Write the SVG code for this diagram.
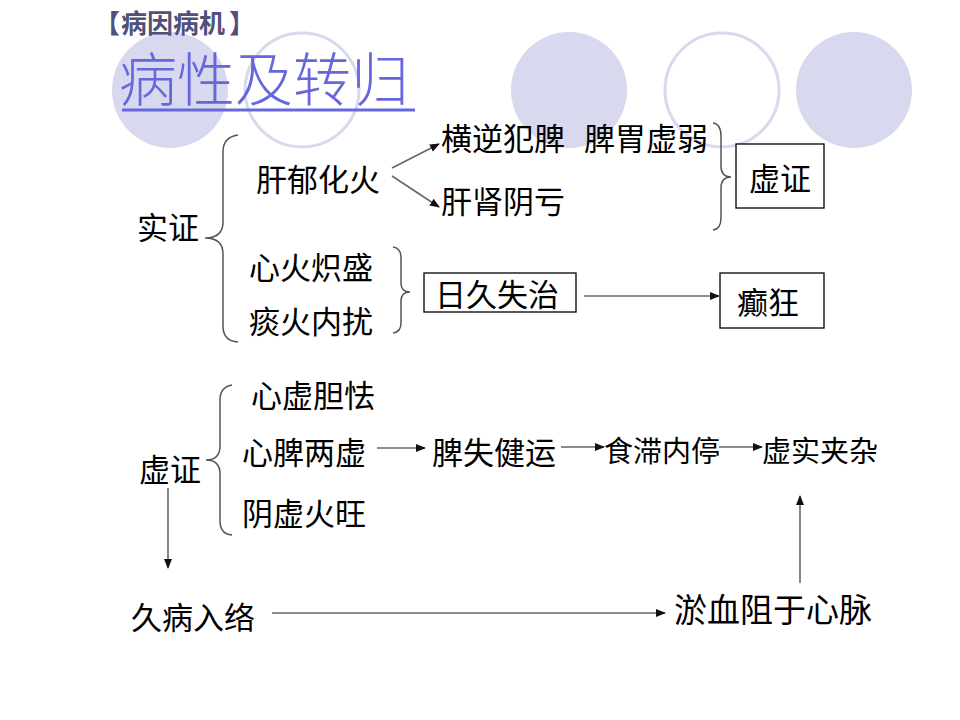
<svg xmlns="http://www.w3.org/2000/svg" width="960" height="720" viewBox="0 0 960 720">
<style>
.t{font-family:"Noto Sans CJK SC","Noto Sans CJK TC",sans-serif;font-size:31px;fill:#000;dominant-baseline:central}
.c{text-anchor:middle}
.box{fill:#fff;stroke:#000;stroke-width:1.3}
.br{fill:none;stroke:#555;stroke-width:1.5}
.ln{fill:none;stroke:#666;stroke-width:1.6;marker-end:url(#ah)}
.cf{fill:#d8d8ee}
.co{fill:none;stroke:#d8d8ee;stroke-width:3}
</style>
<defs>
<marker id="ah" markerUnits="userSpaceOnUse" markerWidth="10" markerHeight="8" refX="9" refY="4" orient="auto">
<path d="M0,0 L10,4 L0,8 z" fill="#111"/>
</marker>
</defs>
<rect width="960" height="720" fill="#fff"/>
<g id="decor">
<circle class="cf" cx="170" cy="90" r="58"/>
<circle class="co" cx="302" cy="90" r="57"/>
<circle class="cf" cx="569" cy="90" r="58"/>
<circle class="co" cx="722" cy="90" r="57"/>
<circle class="cf" cx="854" cy="90" r="58"/>
</g>
<g id="header">
<text class="t" style="font-size:26px;font-weight:bold;fill:#50507a" y="21"><tspan x="94">【</tspan><tspan x="121">病因病机</tspan><tspan x="229">】</tspan></text>
<text class="t" style="font-size:58px;font-weight:300;fill:#6666dd" x="119" y="76">病性及转归</text>
<rect x="122" y="108.5" width="293" height="3" fill="#6666dd"/>
</g>
<g id="braces">
<path class="br" d="M238,135 Q223,137 223,152 L223,222 Q223,238 205,238 Q223,238 223,254 L223,326 Q223,341 238,342"/>
<path class="br" d="M393,247 Q401,248 401,258 L401,283 Q401,292 410,292 Q401,292 401,301 L401,323 Q401,332 393,333"/>
<path class="br" d="M713,123 Q721,124 721,136 L721,166 Q721,177 731,177 Q721,177 721,188 L721,218 Q721,229 713,230"/>
<path class="br" d="M232,385 Q220,387 220,400 L220,446 Q220,460 206,460 Q220,460 220,474 L220,521 Q220,534 232,535"/>
</g>
<g id="connectors">
<line class="ln" x1="392" y1="168" x2="439" y2="144"/>
<line class="ln" x1="392" y1="176" x2="439" y2="207"/>
<line class="ln" x1="584" y1="296" x2="719" y2="296"/>
<line class="ln" x1="377" y1="448" x2="425" y2="448"/>
<line class="ln" x1="561" y1="447" x2="604" y2="447"/>
<line class="ln" x1="719" y1="447" x2="762" y2="447"/>
<line class="ln" x1="800" y1="583" x2="800" y2="496"/>
<line class="ln" x1="168" y1="488" x2="168" y2="568"/>
<line class="ln" x1="272" y1="613" x2="665" y2="613"/>
</g>
<g id="n-shizheng"><text class="t" x="137" y="225">实证</text></g>
<g id="n-ganyu"><text class="t" x="256" y="177">肝郁化火</text></g>
<g id="n-hengni"><text class="t" y="136"><tspan x="441">横逆犯脾</tspan><tspan x="584"> </tspan><tspan x="584">脾胃虚弱</tspan></text></g>
<g id="n-ganshen"><text class="t" x="441" y="199">肝肾阴亏</text></g>
<g id="n-xuzheng-box"><rect class="box" x="736" y="144" width="88" height="64"/><text class="t c" x="780" y="176">虚证</text></g>
<g id="n-xinhuo"><text class="t" x="249" y="265">心火炽盛</text></g>
<g id="n-tanhuo"><text class="t" x="249" y="319">痰火内扰</text></g>
<g id="n-rijiu"><rect class="box" x="424" y="273" width="152" height="39"/><text class="t" x="435" y="292">日久失治</text></g>
<g id="n-diankuang"><rect class="box" x="720" y="273" width="104" height="55"/><text class="t c" x="768" y="300">癫狂</text></g>
<g id="n-xinxu"><text class="t" x="251" y="393">心虚胆怯</text></g>
<g id="n-xinpi"><text class="t" x="242" y="450">心脾两虚</text></g>
<g id="n-yinxu"><text class="t" x="242" y="511">阴虚火旺</text></g>
<g id="n-xuzheng"><text class="t" x="139" y="467">虚证</text></g>
<g id="n-pishi"><text class="t" x="432" y="450">脾失健运</text></g>
<g id="n-shizhi"><text class="t" style="font-size:29px" x="604" y="449">食滞内停</text></g>
<g id="n-xushi"><text class="t" style="font-size:29px" x="762" y="449">虚实夹杂</text></g>
<g id="n-yuxue"><text class="t" style="font-size:33px" x="674" y="608">淤血阻于心脉</text></g>
<g id="n-jiubing"><text class="t" x="131" y="615">久病入络</text></g>
</svg>
